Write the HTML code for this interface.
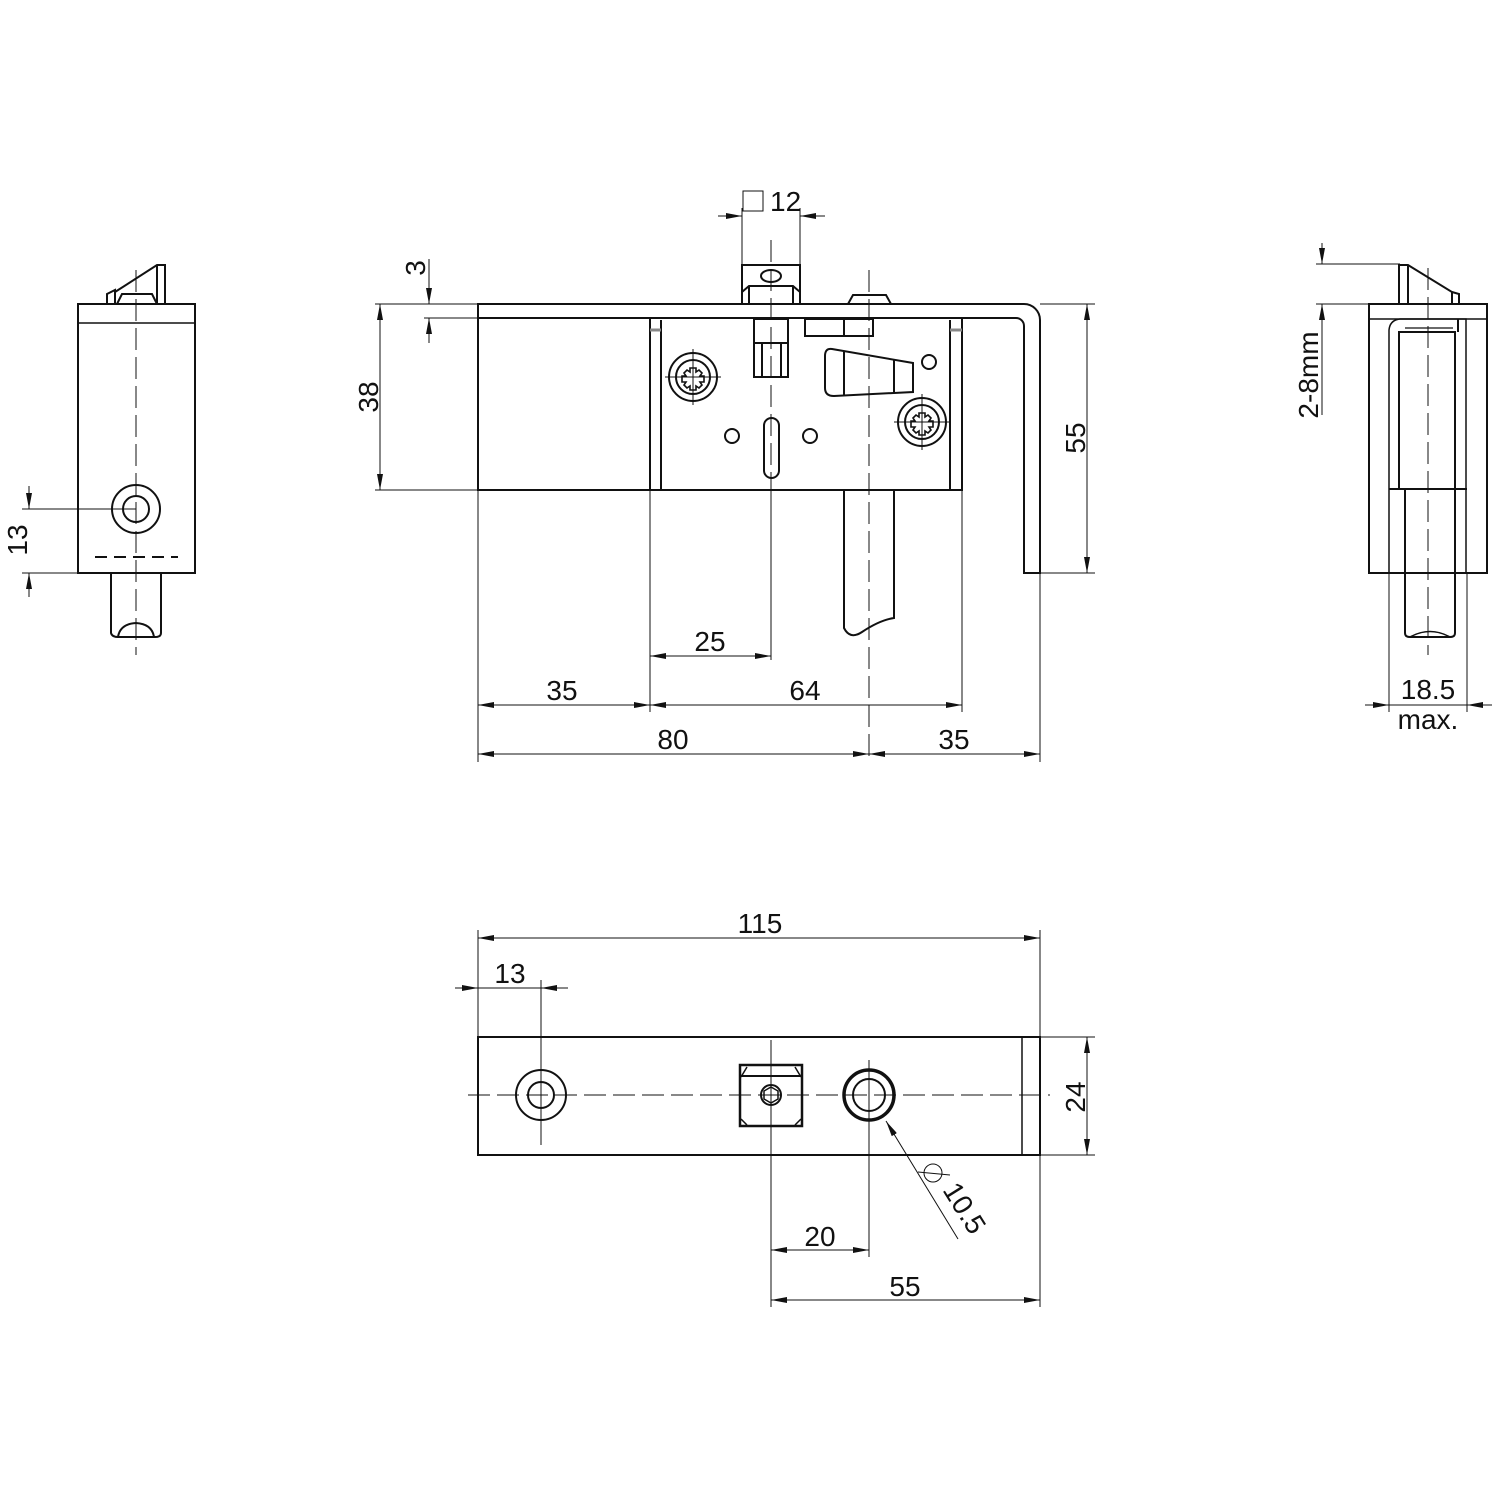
<!DOCTYPE html>
<html><head><meta charset="utf-8"><style>
html,body{margin:0;padding:0;background:#fff}
svg{display:block}
text{font-family:"Liberation Sans",Arial,sans-serif;font-size:28px;fill:#111}
</style></head><body>
<svg width="1500" height="1500" viewBox="0 0 1500 1500" xmlns="http://www.w3.org/2000/svg">
<defs>
<marker id="a" viewBox="0 0 16 6" refX="16" refY="3" markerWidth="16" markerHeight="6" orient="auto" markerUnits="userSpaceOnUse"><path d="M0,0 L16,3 L0,6 z" fill="#111"/></marker>
</defs>
<g fill="none" stroke="#111" stroke-width="2">
<path d="M478,304 H1024 A16,16 0 0 1 1040,320 V573 H1024 V326 A8,8 0 0 0 1016,318 H478 Z"/>
<rect x="478" y="318" width="172" height="172"/>
<rect x="650" y="318" width="312" height="172"/>
<line x1="661" y1="320" x2="661" y2="490"/>
<line x1="950" y1="320" x2="950" y2="490"/>
<line x1="650" y1="330" x2="661" y2="330" stroke="#888" stroke-width="3"/>
<line x1="950" y1="330" x2="962" y2="330" stroke="#888" stroke-width="3"/>
<path d="M742,304 V265 H800 V304"/>
<path d="M742,292 L749,286 H793 L800,292"/>
<line x1="749" y1="286" x2="749" y2="304"/>
<line x1="793" y1="286" x2="793" y2="304"/>
<ellipse cx="771" cy="276" rx="10" ry="6"/>
<rect x="754" y="319" width="34" height="58"/>
<line x1="754" y1="343" x2="788" y2="343"/>
<line x1="762" y1="343" x2="762" y2="377"/>
<line x1="781" y1="343" x2="781" y2="377"/>
<rect x="805" y="319" width="68" height="17"/>
<line x1="844" y1="319" x2="844" y2="336"/>
<path d="M848,304 L853,295 H886 L891,304"/>
<circle cx="693" cy="377" r="24"/><circle cx="693" cy="377" r="17"/>
<path d="M690,368 h6 v4 l3,-2 l3,3 l-2,3 h4 v6 h-4 l2,3 l-3,3 l-3,-2 v4 h-6 v-4 l-3,2 l-3,-3 l2,-3 h-4 v-6 h4 l-2,-3 l3,-3 l3,2 z" stroke-width="1.6"/>
<circle cx="922" cy="422" r="24"/><circle cx="922" cy="422" r="17"/>
<path d="M919,413 h6 v4 l3,-2 l3,3 l-2,3 h4 v6 h-4 l2,3 l-3,3 l-3,-2 v4 h-6 v-4 l-3,2 l-3,-3 l2,-3 h-4 v-6 h4 l-2,-3 l3,-3 l3,2 z" stroke-width="1.6"/>
<circle cx="732" cy="436" r="7"/><circle cx="810" cy="436" r="7"/><circle cx="929" cy="362" r="7"/>
<rect x="764" y="418" width="15" height="60" rx="7.5"/>
<path d="M832,349 L913,363 V392 L834,396 Q825,396 825,388 V356 Q825,348 832,349 Z"/>
<line x1="844" y1="351" x2="844" y2="396"/>
<line x1="894" y1="360" x2="894" y2="393"/>
<path d="M844,490 V628 Q850,640 862,632 Q880,620 894,618 V490"/>
<rect x="78" y="304" width="117" height="269"/>
<line x1="78" y1="323" x2="195" y2="323" stroke-width="1.5"/>
<circle cx="136" cy="509" r="24"/><circle cx="136" cy="509" r="13"/>
<line x1="95" y1="557" x2="178" y2="557" stroke-dasharray="12,7"/>
<path d="M111,573 V633 Q112,637 118,637 H155 Q161,637 161,633 V573"/>
<path d="M118,637 Q120,624 136,623 Q152,624 154,637"/>
<path d="M107,304 V294 L115,290 V304"/>
<path d="M115,292 L157,265 H165 V304"/>
<line x1="157" y1="265" x2="157" y2="304"/>
<path d="M117,304 L122,294 H152 L157,304"/>
<rect x="1369" y="304" width="118" height="269"/>
<line x1="1369" y1="319" x2="1487" y2="319" stroke-width="1.5"/>
<path d="M1389,573 V330 Q1390,320 1400,319 H1466 V573" stroke-width="1.5"/>
<rect x="1399" y="332" width="56" height="157"/>
<line x1="1389" y1="489" x2="1467" y2="489"/>
<line x1="1458" y1="319" x2="1458" y2="332"/>
<line x1="1405" y1="328" x2="1453" y2="328" stroke-width="1.2"/>
<path d="M1405,489 V633 Q1405,637 1410,637 H1450 Q1455,637 1455,633 V489"/>
<path d="M1410,637 Q1430,626 1450,637" stroke-width="1.5"/>
<path d="M1399,304 V265 H1408 L1452,292 V304"/>
<path d="M1452,292 L1459,294 V304"/>
<line x1="1408" y1="265" x2="1408" y2="304"/>
<rect x="478" y="1037" width="562" height="118"/>
<line x1="1022" y1="1037" x2="1022" y2="1155" stroke-width="1.5"/>
<circle cx="541" cy="1095" r="25"/><circle cx="541" cy="1095" r="13"/>
<rect x="740" y="1065" width="62" height="61" stroke-width="2.5"/>
<line x1="740" y1="1076" x2="802" y2="1076"/>
<path d="M741,1077 L747,1067 M801,1077 L795,1067 M741,1119 L747,1125 M801,1119 L795,1125" stroke-width="1.5"/>
<circle cx="771" cy="1095" r="10"/>
<polygon points="771,1087 778,1091 778,1099 771,1103 764,1099 764,1091" stroke-width="1.5"/>
<circle cx="869" cy="1095" r="25" stroke-width="3.5"/>
<circle cx="869" cy="1095" r="16"/>
</g>
<g fill="none" stroke="#111" stroke-width="1" stroke-dasharray="22,7">
<line x1="771" y1="240" x2="771" y2="490"/>
<line x1="869" y1="270" x2="869" y2="760"/>
<line x1="136" y1="270" x2="136" y2="655"/>
<line x1="1428" y1="268" x2="1428" y2="655"/>
<line x1="468" y1="1095" x2="1050" y2="1095"/>
</g>
<g fill="none" stroke="#111" stroke-width="1">
<line x1="771" y1="490" x2="771" y2="660"/>
<line x1="693" y1="349" x2="693" y2="405"/><line x1="665" y1="377" x2="721" y2="377"/>
<line x1="922" y1="394" x2="922" y2="450"/><line x1="894" y1="422" x2="950" y2="422"/>
<line x1="541" y1="980" x2="541" y2="1145"/>
<line x1="869" y1="1060" x2="869" y2="1257"/>
<line x1="771" y1="1040" x2="771" y2="1307"/>
<line x1="22" y1="509" x2="136" y2="509"/>
<line x1="22" y1="573" x2="78" y2="573"/>
<line x1="29" y1="486" x2="29" y2="509" marker-end="url(#a)"/>
<line x1="29" y1="597" x2="29" y2="573" marker-end="url(#a)"/>
<line x1="375" y1="304" x2="478" y2="304"/>
<line x1="424" y1="318" x2="478" y2="318"/>
<line x1="375" y1="490" x2="478" y2="490"/>
<line x1="429" y1="259" x2="429" y2="304" marker-end="url(#a)"/>
<line x1="429" y1="343" x2="429" y2="318" marker-end="url(#a)"/>
<line x1="380" y1="397" x2="380" y2="304" marker-end="url(#a)"/>
<line x1="380" y1="397" x2="380" y2="490" marker-end="url(#a)"/>
<line x1="742" y1="208" x2="742" y2="265"/>
<line x1="800" y1="208" x2="800" y2="265"/>
<line x1="718" y1="216" x2="742" y2="216" marker-end="url(#a)"/>
<line x1="825" y1="216" x2="800" y2="216" marker-end="url(#a)"/>
<rect x="743" y="191" width="20" height="20"/>
<line x1="1040" y1="304" x2="1095" y2="304"/>
<line x1="1040" y1="573" x2="1095" y2="573"/>
<line x1="1087" y1="438" x2="1087" y2="304" marker-end="url(#a)"/>
<line x1="1087" y1="438" x2="1087" y2="573" marker-end="url(#a)"/>
<line x1="478" y1="490" x2="478" y2="762"/>
<line x1="650" y1="490" x2="650" y2="712"/>
<line x1="962" y1="490" x2="962" y2="712"/>
<line x1="1040" y1="573" x2="1040" y2="762"/>
<line x1="710" y1="656" x2="650" y2="656" marker-end="url(#a)"/>
<line x1="710" y1="656" x2="771" y2="656" marker-end="url(#a)"/>
<line x1="564" y1="705" x2="478" y2="705" marker-end="url(#a)"/>
<line x1="564" y1="705" x2="650" y2="705" marker-end="url(#a)"/>
<line x1="806" y1="705" x2="650" y2="705" marker-end="url(#a)"/>
<line x1="806" y1="705" x2="962" y2="705" marker-end="url(#a)"/>
<line x1="673" y1="754" x2="478" y2="754" marker-end="url(#a)"/>
<line x1="673" y1="754" x2="869" y2="754" marker-end="url(#a)"/>
<line x1="954" y1="754" x2="869" y2="754" marker-end="url(#a)"/>
<line x1="954" y1="754" x2="1040" y2="754" marker-end="url(#a)"/>
<line x1="1316" y1="264" x2="1400" y2="264"/>
<line x1="1316" y1="304" x2="1369" y2="304"/>
<line x1="1322" y1="243" x2="1322" y2="264" marker-end="url(#a)"/>
<line x1="1322" y1="415" x2="1322" y2="304" marker-end="url(#a)"/>
<line x1="1389" y1="573" x2="1389" y2="712"/>
<line x1="1467" y1="573" x2="1467" y2="712"/>
<line x1="1365" y1="705" x2="1389" y2="705" marker-end="url(#a)"/>
<line x1="1492" y1="705" x2="1467" y2="705" marker-end="url(#a)"/>
<line x1="1389" y1="705" x2="1467" y2="705"/>
<line x1="478" y1="930" x2="478" y2="1037"/>
<line x1="1040" y1="930" x2="1040" y2="1037"/>
<line x1="760" y1="938" x2="478" y2="938" marker-end="url(#a)"/>
<line x1="760" y1="938" x2="1040" y2="938" marker-end="url(#a)"/>
<line x1="455" y1="988" x2="478" y2="988" marker-end="url(#a)"/>
<line x1="568" y1="988" x2="541" y2="988" marker-end="url(#a)"/>
<line x1="478" y1="988" x2="541" y2="988"/>
<line x1="1040" y1="1155" x2="1040" y2="1307"/>
<line x1="820" y1="1250" x2="771" y2="1250" marker-end="url(#a)"/>
<line x1="820" y1="1250" x2="869" y2="1250" marker-end="url(#a)"/>
<line x1="905" y1="1300" x2="771" y2="1300" marker-end="url(#a)"/>
<line x1="905" y1="1300" x2="1040" y2="1300" marker-end="url(#a)"/>
<line x1="1040" y1="1037" x2="1095" y2="1037"/>
<line x1="1040" y1="1155" x2="1095" y2="1155"/>
<line x1="1087" y1="1096" x2="1087" y2="1037" marker-end="url(#a)"/>
<line x1="1087" y1="1096" x2="1087" y2="1155" marker-end="url(#a)"/>
<line x1="958" y1="1239" x2="886" y2="1121" marker-end="url(#a)"/>
<circle cx="933" cy="1173" r="9"/>
<line x1="918" y1="1172" x2="950" y2="1175"/>
</g>
<text x="770" y="211">12</text>
<text transform="translate(425,268) rotate(-90)" text-anchor="middle">3</text>
<text transform="translate(378,397) rotate(-90)" text-anchor="middle">38</text>
<text transform="translate(1085,438) rotate(-90)" text-anchor="middle">55</text>
<text transform="translate(27,540) rotate(-90)" text-anchor="middle">13</text>
<text transform="translate(1318,375) rotate(-90)" text-anchor="middle">2-8mm</text>
<text x="710" y="651" text-anchor="middle">25</text>
<text x="562" y="700" text-anchor="middle">35</text>
<text x="805" y="700" text-anchor="middle">64</text>
<text x="673" y="749" text-anchor="middle">80</text>
<text x="954" y="749" text-anchor="middle">35</text>
<text x="1428" y="699" text-anchor="middle">18.5</text>
<text x="1428" y="729" text-anchor="middle">max.</text>
<text x="760" y="933" text-anchor="middle">115</text>
<text x="510" y="983" text-anchor="middle">13</text>
<text x="820" y="1246" text-anchor="middle">20</text>
<text x="905" y="1296" text-anchor="middle">55</text>
<text transform="translate(1085,1097) rotate(-90)" text-anchor="middle">24</text>
<text transform="translate(942,1190) rotate(58)">10.5</text>
</svg>
</body></html>
